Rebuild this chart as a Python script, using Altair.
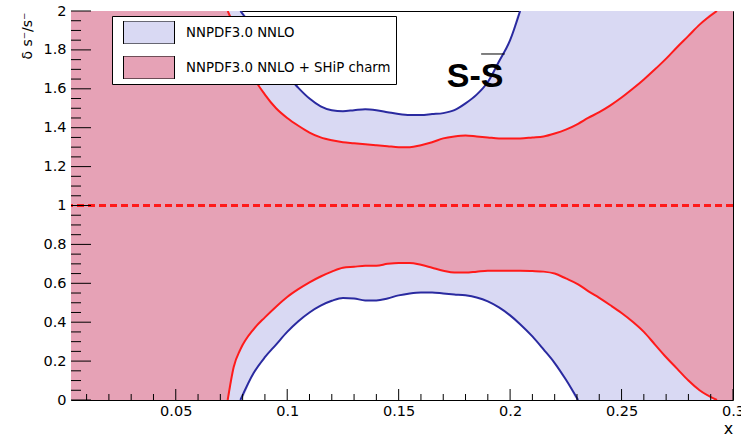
import altair as alt
import pandas as pd

# Momentum fraction grid shared by all four band edges
x_grid = [0.003, 0.0733, 0.076, 0.079, 0.085, 0.09, 0.095, 0.10, 0.105, 0.11,
          0.115, 0.12, 0.125, 0.13, 0.135, 0.14, 0.145, 0.15, 0.155, 0.16,
          0.165, 0.17, 0.175, 0.18, 0.185, 0.19, 0.195, 0.20, 0.2045, 0.21,
          0.215, 0.22, 0.225, 0.2305, 0.235, 0.24, 0.245, 0.25, 0.255, 0.26,
          0.265, 0.27, 0.275, 0.28, 0.285, 0.2928, 0.3]

# NNPDF3.0 NNLO relative uncertainty band (None = off the 0..2 range)
nnpdf_upper = [None, None, None, 2.0, 1.905, 1.815, 1.735, 1.67, 1.605, 1.55,
               1.51, 1.49, 1.485, 1.49, 1.495, 1.49, 1.48, 1.47, 1.465, 1.465,
               1.47, 1.475, 1.49, 1.525, 1.57, 1.635, 1.74, 1.85, 2.0, None,
               None, None, None, None, None, None, None, None, None, None,
               None, None, None, None, None, None, None]
nnpdf_lower = [None, None, None, 0.0, 0.14, 0.22, 0.285, 0.35, 0.405, 0.45,
               0.485, 0.51, 0.525, 0.522, 0.512, 0.512, 0.522, 0.538, 0.548, 0.553,
               0.553, 0.548, 0.543, 0.538, 0.527, 0.507, 0.476, 0.435, 0.39, 0.327,
               0.26, 0.19, 0.105, 0.0, None, None, None, None, None, None,
               None, None, None, None, None, None, None]

# NNPDF3.0 NNLO + SHiP charm band
ship_upper = [None, 2.0, 1.93, 1.85, 1.66, 1.57, 1.50, 1.45, 1.41, 1.375,
              1.35, 1.335, 1.325, 1.32, 1.315, 1.31, 1.305, 1.30, 1.30, 1.31,
              1.325, 1.345, 1.355, 1.36, 1.355, 1.35, 1.345, 1.345, 1.345, 1.35,
              1.355, 1.37, 1.39, 1.42, 1.45, 1.48, 1.515, 1.555, 1.60, 1.648,
              1.70, 1.755, 1.815, 1.872, 1.93, 2.0, None]
ship_lower = [None, 0.0, 0.17, 0.26, 0.365, 0.425, 0.48, 0.53, 0.57, 0.605,
              0.635, 0.66, 0.68, 0.685, 0.69, 0.69, 0.70, 0.705, 0.705, 0.695,
              0.68, 0.665, 0.655, 0.655, 0.66, 0.665, 0.665, 0.665, 0.665, 0.663,
              0.66, 0.65, 0.625, 0.595, 0.56, 0.525, 0.487, 0.447, 0.402, 0.35,
              0.285, 0.22, 0.16, 0.10, 0.05, 0.0, None]

# Axis ticks
x_major = [0.05, 0.1, 0.15, 0.2, 0.25, 0.3]
x_minor = [0.01, 0.02, 0.03, 0.04, 0.06, 0.07, 0.08, 0.09, 0.11, 0.12, 0.13, 0.14,
           0.16, 0.17, 0.18, 0.19, 0.21, 0.22, 0.23, 0.24, 0.26, 0.27, 0.28, 0.29]
y_major = [0, 0.2, 0.4, 0.6, 0.8, 1.0, 1.2, 1.4, 1.6, 1.8, 2.0]
y_minor = [round(0.05 * i, 2) for i in range(1, 40) if i % 4 != 0]

BLUE_NAME = "NNPDF3.0 NNLO"
RED_NAME = "NNPDF3.0 NNLO + SHiP charm"
FONT = "DejaVu Sans"

bands = pd.DataFrame({
    "x": x_grid,
    "blue_lo": [0.0 if v is None else v for v in nnpdf_lower],
    "blue_hi": [2.0 if v is None else v for v in nnpdf_upper],
    "red_lo": [0.0 if v is None else v for v in ship_lower],
    "red_hi": [2.0 if v is None else v for v in ship_upper],
})

def edge_rows(values, name):
    return [{"x": x, "y": v, "edge": name} for x, v in zip(x_grid, values) if v is not None]

blue_edges = pd.DataFrame(edge_rows(nnpdf_upper, "up") + edge_rows(nnpdf_lower, "lo"))
red_edges = pd.DataFrame(edge_rows(ship_upper, "up") + edge_rows(ship_lower, "lo"))

x_scale = alt.Scale(domain=[0.003, 0.3], nice=False, zero=False)
y_scale = alt.Scale(domain=[0, 2], nice=False, zero=False)
color_scale = alt.Scale(domain=[BLUE_NAME, RED_NAME], range=["#d9d9f3", "#e6a2b6"])

x_axis = alt.Axis(values=x_major, format="~g", labelFont=FONT, labelFontSize=14.5,
                  labelColor="black", labelPadding=4, labelFlush=False, labelOverlap=False,
                  ticks=False, tickSize=0, domain=False, grid=False, title="x",
                  titleFont=FONT, titleFontSize=16, titleFontWeight="normal",
                  titleColor="black", titleX=657, titleY=33, titleAlign="center",
                  titleBaseline="alphabetic")
y_axis = alt.Axis(values=y_major, format="~g", labelFont=FONT,
                  labelFontSize=14.5, labelColor="black", labelPadding=5,
                  labelOverlap=False, labelFlush=False, ticks=False, tickSize=0,
                  domain=False, grid=False, title="δ s⁻/s⁻", titleFont=FONT,
                  titleFontSize=14, titleFontWeight="normal", titleColor="black",
                  titleAngle=270, titleX=-40, titleY=1, titleAlign="right",
                  titleBaseline="alphabetic")

legend = alt.Legend(orient="none", legendX=41, legendY=5, title=None,
                    symbolType="M-1,-0.45H1V0.45H-1Z", symbolSize=2601,
                    symbolStrokeColor="black", symbolStrokeWidth=1, symbolOpacity=1,
                    clipHeight=23, rowPadding=12, labelFont=FONT, labelFontSize=13.3,
                    labelColor="black", labelOffset=11, labelLimit=400, padding=5,
                    symbolOffset=6, strokeColor="black", fillColor="white")

# Every layer shares the same scales and the same axis definitions
X = lambda f: alt.X(f, scale=x_scale, axis=x_axis)
Y = lambda f: alt.Y(f, scale=y_scale, axis=y_axis)

base = alt.Chart(bands)

blue_band = base.mark_area(interpolate="monotone", clip=True).transform_calculate(
    band=f"'{BLUE_NAME}'"
).encode(
    x=X("x:Q"),
    y=Y("blue_lo:Q"),
    y2="blue_hi:Q",
    color=alt.Color("band:N", scale=color_scale, legend=legend),
)
red_band = base.mark_area(interpolate="monotone", clip=True).transform_calculate(
    band=f"'{RED_NAME}'"
).encode(
    x=X("x:Q"),
    y=Y("red_lo:Q"),
    y2="red_hi:Q",
    color=alt.Color("band:N", scale=color_scale, legend=legend),
)

unity = alt.Chart(bands).mark_rule(color="#ff1a1a", strokeWidth=2, strokeDash=[7, 4]).encode(
    y=alt.YDatum(1.0, scale=y_scale, axis=y_axis)
)

blue_lines = alt.Chart(blue_edges).mark_line(
    interpolate="monotone", clip=True, color="#2a2aa0", strokeWidth=2
).encode(x=X("x:Q"), y=Y("y:Q"), detail="edge:N")
red_lines = alt.Chart(red_edges).mark_line(
    interpolate="monotone", clip=True, color="#ff1a1a", strokeWidth=2
).encode(x=X("x:Q"), y=Y("y:Q"), detail="edge:N")

# Inward-pointing tick marks in the ROOT style
tick_color = "black"
x_major_ticks = alt.Chart(pd.DataFrame({"t": x_major})).mark_rule(color=tick_color).encode(
    x=X("t:Q"), y=alt.value(389), y2=alt.value(378))
x_minor_ticks = alt.Chart(pd.DataFrame({"t": x_minor})).mark_rule(color=tick_color).encode(
    x=X("t:Q"), y=alt.value(389), y2=alt.value(383))
y_major_ticks = alt.Chart(pd.DataFrame({"t": y_major})).mark_rule(color=tick_color).encode(
    y=Y("t:Q"), x=alt.value(0), x2=alt.value(20))
y_minor_ticks = alt.Chart(pd.DataFrame({"t": y_minor})).mark_rule(color=tick_color).encode(
    y=Y("t:Q"), x=alt.value(0), x2=alt.value(10))

# "s - sbar" label
label_df = pd.DataFrame({"x": [0.1843], "y": [1.611], "text": ["S-S"]})
label = alt.Chart(label_df).mark_text(
    font="Liberation Sans", fontSize=34, fontWeight="bold", color="black",
    align="center", baseline="alphabetic"
).encode(x=X("x:Q"), y=Y("y:Q"), text="text:N")
bar_df = pd.DataFrame({"x": [0.1870], "x2": [0.1976], "y": [1.779]})
overbar = alt.Chart(bar_df).mark_rule(color="black", strokeWidth=1).encode(
    x=X("x:Q"), x2="x2:Q", y=Y("y:Q"))

chart = alt.layer(
    blue_band, red_band, unity, blue_lines, red_lines,
    x_major_ticks, x_minor_ticks, y_major_ticks, y_minor_ticks,
    label, overbar,
).properties(
    width=662, height=389,
    autosize=alt.AutoSizeParams(type="none"),
    padding={"left": 71, "top": 11, "right": 8, "bottom": 38},
    background="white",
).configure_view(stroke="black", strokeWidth=1)

chart.save("out.html", embed_options={"renderer": "svg", "actions": False})
